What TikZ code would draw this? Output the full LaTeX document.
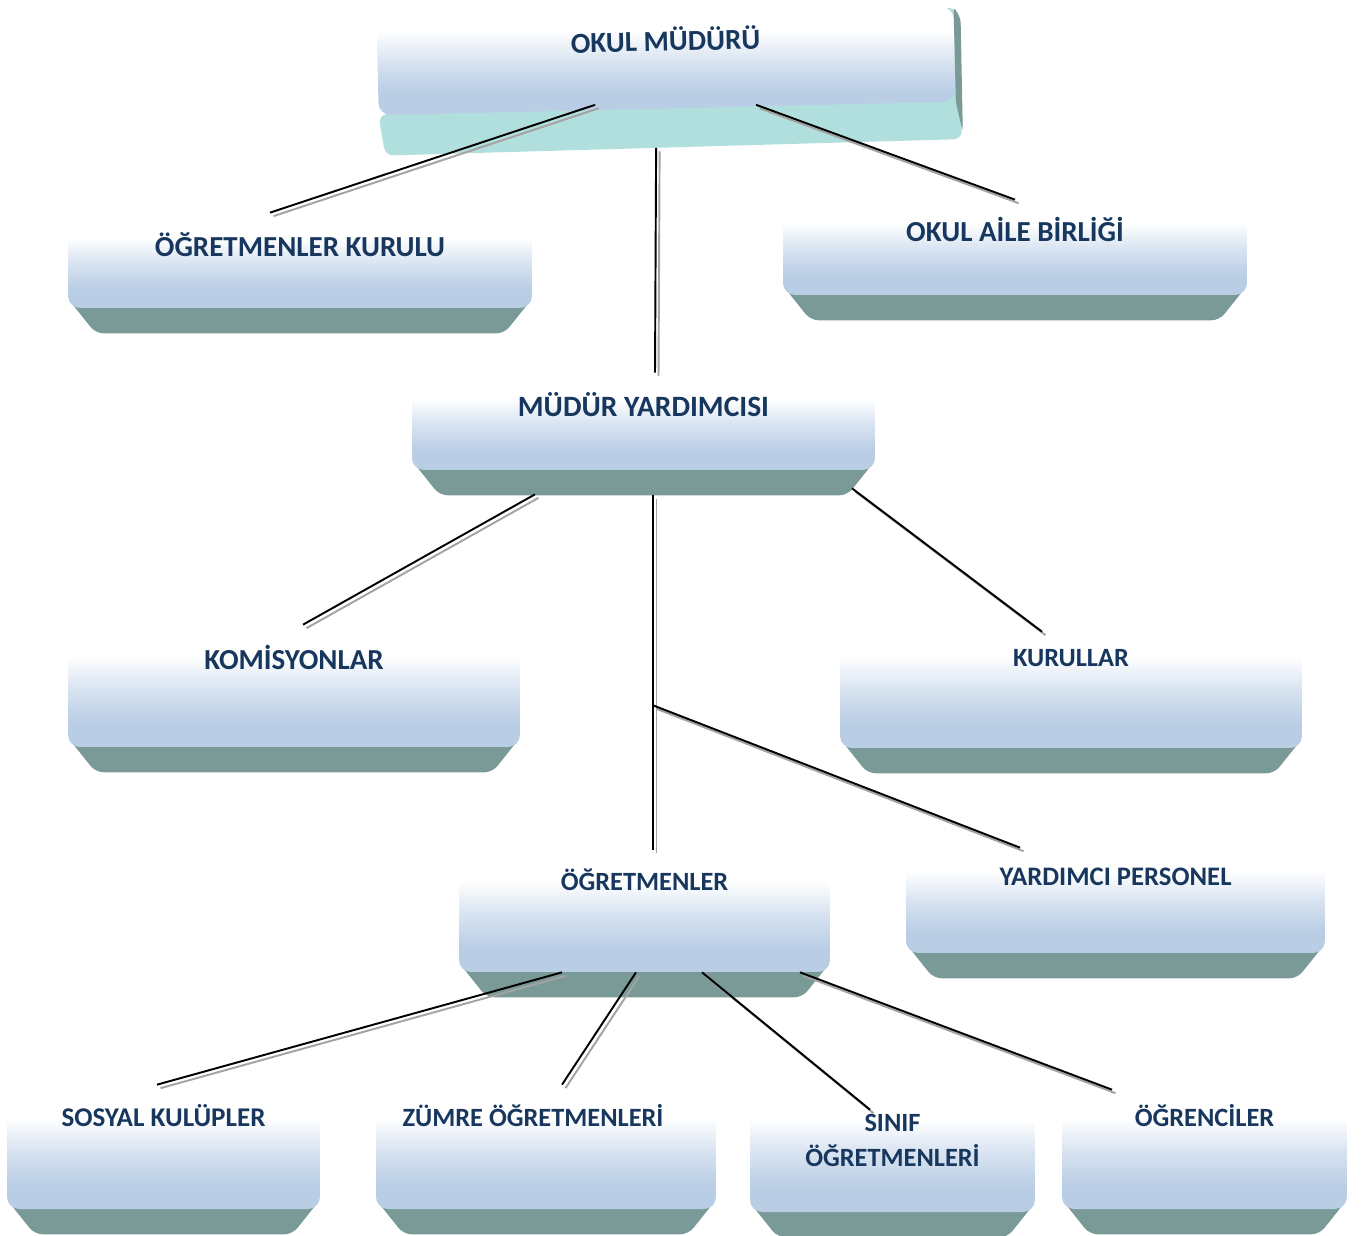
\documentclass[tikz,border=0pt]{standalone}
\usepackage{fontspec}
\setmainfont{Carlito}
\usetikzlibrary{calc}

\definecolor{navy}{HTML}{17375E}
\definecolor{faceblue}{HTML}{B9CDE5}
\definecolor{basegray}{HTML}{7A9A97}
\definecolor{slabteal}{HTML}{B0DFDD}
\definecolor{shadowgray}{HTML}{A3A3A3}

\pgfdeclarelayer{bg}
\pgfsetlayers{bg,main}
\pgfdeclareverticalshading{facegrad}{100bp}{color(0bp)=(faceblue); color(35bp)=(faceblue); color(50bp)=(faceblue!55!white); color(64bp)=(white); color(100bp)=(white)}

\begin{document}
\begin{tikzpicture}[x=0.02cm, y=-0.02cm,
    face/.style = {shade, shading=facegrad, rounded corners=0.24cm, text=navy, inner sep=0pt,
                   font=\bfseries\fontsize{15}{19.8}\selectfont},
    big/.style = {font=\bfseries\fontsize{16.5}{20}\selectfont},
    base/.style = {fill=basegray, rounded corners=0.16cm},
    link/.style = {line width=1.1pt,
                   preaction={draw=shadowgray, line width=1.1pt, transform canvas={shift={(0.07cm,-0.07cm)}}}}]
    \useasboundingbox (0,0) rectangle (1368,1236);

    % boxes
    \node[face, big, rotate=1.34, minimum width=11.54cm, text height=0.75cm, text depth=1.15cm] (okul) at (666,61) {OKUL MÜDÜRÜ};
    \node[face, big, minimum width=9.28cm, text height=0.78cm, text depth=1.02cm] (ok) at (300,263) {ÖĞRETMENLER KURULU};
    \node[face, big, minimum width=9.28cm, text height=0.78cm, text depth=1.06cm] (oab) at (1015,249) {OKUL AİLE BİRLİĞİ};
    \node[face, font=\bfseries\fontsize{16.8}{20}\selectfont, minimum width=9.26cm, text height=0.77cm, text depth=1.07cm] (my) at (643.5,424) {MÜDÜR YARDIMCISI};
    \node[face, big, minimum width=9.04cm, text height=0.78cm, text depth=1.56cm] (kom) at (294,688.5) {KOMİSYONLAR};
    \node[face, minimum width=9.24cm, text height=0.73cm, text depth=1.63cm] (kur) at (1071,689) {KURULLAR};
    \node[face, minimum width=7.42cm, text height=0.71cm, text depth=1.63cm] (ogr) at (644.5,913.5) {ÖĞRETMENLER};
    \node[face, font=\bfseries\fontsize{15.2}{19.8}\selectfont, minimum width=8.38cm, text height=0.75cm, text depth=1.35cm] (yp) at (1115.5,900.5) {YARDIMCI PERSONEL};
    \node[face, font=\bfseries\fontsize{15.4}{19.8}\selectfont, minimum width=6.26cm, text height=0.69cm, text depth=1.65cm] (sk) at (163.5,1150.5) {SOSYAL KULÜPLER};
    \node[face, minimum width=6.8cm, text height=0.69cm, text depth=1.65cm] (zo) at (546,1150.5) {ZÜMRE ÖĞRETMENLERİ\rule{0.52cm}{0pt}};
    \node[face, align=center, minimum width=5.7cm, text height=1.47cm, text depth=0.91cm] (sin) at (892.5,1152.5) {SINIF\\ÖĞRETMENLERİ};
    \node[face, minimum width=5.7cm, text height=0.67cm, text depth=1.65cm] (ogc) at (1204.5,1151) {ÖĞRENCİLER};

    % bottom slabs
    \begin{pgfonlayer}{bg}
        \fill[slabteal, rounded corners=0.16cm] (okul.south west) -- ($(okul.south west)+(7,40)$)
            -- ($(okul.south east)+(6,37)$) -- ($(okul.north east)+(7,12)$) -- (okul.north east) -- cycle;
        \fill[basegray, rounded corners=0.1cm] (okul.north east) -- ($(okul.north east)+(7,12)$)
            -- ($(okul.south east)+(7,30)$) -- (okul.south east) -- cycle;
        \foreach \n in {ok,oab,my,kom,kur,ogr,yp,sk,zo,sin,ogc}
            \fill[base] ($(\n.south west)+(0,-10)$) -- ($(\n.south west)+(28,25)$)
                -- ($(\n.south east)+(-28,25)$) -- ($(\n.south east)+(0,-10)$) -- cycle;
    \end{pgfonlayer}

    % connectors
    \coordinate (jn) at ($(my.south)+(9.5,235)$);
    \draw[link] ($(okul.south)+(-72,-4)$) -- ($(ok.north)+(-30,-5)$);
    \draw[link] ($(okul.south)+(-11,39)$) -- ($(my.north)+(11.5,-5)$);
    \draw[link] ($(okul.south)+(89,-4)$) -- ($(oab.north)+(0,-3)$);
    \draw[link] ($(my.south)+(-108.5,24)$) -- ($(kom.north)+(9,-5)$);
    \draw[link] ($(my.south)+(208.5,18)$) -- ($(kur.north)+(-29,2)$);
    \draw[link] ($(my.south)+(9.5,25)$) -- ($(ogr.north)+(8.5,-5)$);
    \draw[link] (jn) -- ($(yp.north)+(-95.5,0)$);
    \draw[link] ($(ogr.south)+(-82.5,0)$) -- ($(sk.north)+(-6.5,-7)$);
    \draw[link] ($(ogr.south)+(-8.5,0)$) -- ($(zo.north)+(16,-7)$);
    \draw[link] ($(ogr.south)+(57.5,0)$) -- ($(sin.north)+(-22.5,17)$);
    \draw[link] ($(ogr.south)+(155.5,0)$) -- ($(ogc.north)+(-92.5,-3)$);
\end{tikzpicture}
\end{document}
